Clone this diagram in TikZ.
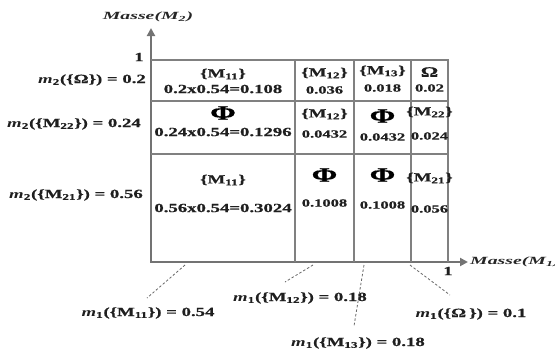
\documentclass[tikz,border=0pt]{standalone}
\usepackage{fontspec}
\setmainfont{Liberation Serif}[BoldFeatures={FakeBold=0.6}]
\usepackage{graphicx}
\usetikzlibrary{arrows.meta}
\newcommand{\sx}[1]{\scalebox{1.5}[1]{#1}}
\newcommand{\sxa}[1]{\scalebox{1.8}[1]{#1}}
\newcommand{\mmlab}[2]{\textit{m}\textsubscript{#1}(\{#2\})}
\newcommand{\Msub}[1]{M\textsubscript{#1}}
\begin{document}
\begin{tikzpicture}[x=1pt,y=-1pt,
  lab/.style={inner sep=0pt, text=black!88, font=\bfseries\fontsize{12.5}{13}\selectfont},
  axlab/.style={inner sep=0pt, text=black!85, font=\bfseries\itshape\fontsize{11}{12}\selectfont},
  cellA/.style={inner sep=0pt, text=black!88, font=\bfseries\fontsize{12.5}{13}\selectfont},
  cellW/.style={inner sep=0pt, text=black!88, font=\bfseries\fontsize{12.5}{13}\selectfont},
  cellB/.style={inner sep=0pt, text=black!88, font=\bfseries\fontsize{11}{12}\selectfont},
  phi/.style={inner sep=0pt, text=black, font=\bfseries\fontsize{20.5}{21}\selectfont},
  gridline/.style={draw=black!50, line width=1.3pt},
  axis/.style={draw=black!55, line width=2.8pt, line join=miter, {Triangle[length=8pt,width=8pt]}-{Triangle[length=8pt,width=8pt]}},
  lead/.style={draw=black!60, dashed, dash pattern=on 2.5pt off 2pt, line width=0.8pt}
]
\useasboundingbox (0,0) rectangle (555,354);

% axes
\coordinate (O) at (151,262);
\coordinate (ytop) at (151,28);
\coordinate (xend) at (468,262);
\draw[axis] (ytop) -- (O) -- (xend);

\node[axlab] (ylab) at (148,17) {\sxa{Masse(\Msub{2})}};
\node[axlab, anchor=west] (xlab) at (470,262) {\sxa{Masse(\Msub{1})}};
\node[lab] (y1) at (139,57) {\sx{1}};
\node[lab] (x1) at (448,271) {\sx{1}};

% grid
\draw[gridline] (151,60) -- (448,60) -- (448,262);
\draw[gridline] (151,101) -- (448,101);
\draw[gridline] (151,154) -- (448,154);
\draw[gridline] (295,60) -- (295,262);
\draw[gridline] (354,60) -- (354,262);
\draw[gridline] (411,60) -- (411,262);

% left labels
\node[lab, anchor=east] (l1) at (146,80) {\sx{\mmlab{2}{Ω} = 0.2}};
\node[lab, anchor=east] (l2) at (141,124) {\sx{\mmlab{2}{\Msub{22}} = 0.24}};
\node[lab, anchor=east] (l3) at (143,195) {\sx{\mmlab{2}{\Msub{21}} = 0.56}};

% bottom labels
\node[lab] (b1) at (148,313) {\sx{\mmlab{1}{\Msub{11}} = 0.54}};
\node[lab] (b2) at (300,298) {\sx{\mmlab{1}{\Msub{12}} = 0.18}};
\node[lab] (b3) at (358,343) {\sx{\mmlab{1}{\Msub{13}} = 0.18}};
\node[lab] (b4) at (471,314) {\sx{\mmlab{1}{Ω\,} = 0.1}};

% leaders
\coordinate (a1) at (185,265); \coordinate (e1) at (147,298);
\coordinate (a2) at (313,265); \coordinate (e2) at (285,282);
\coordinate (a3) at (364,265); \coordinate (e3) at (354,326);
\coordinate (a4) at (410,265); \coordinate (e4) at (450,295);
\draw[lead] (a1) -- (e1);
\draw[lead] (a2) -- (e2);
\draw[lead] (a3) -- (e3);
\draw[lead] (a4) -- (e4);

% row 1
\node[cellA] (r1c1a) at (223,74) {\sx{\{\Msub{11}\}}};
\node[cellW] (r1c1b) at (223,89) {\sx{0.2x0.54=0.108}};
\node[cellA] (r1c2a) at (324.5,73) {\sx{\{\Msub{12}\}}};
\node[cellB] (r1c2b) at (324.5,90) {\sx{0.036}};
\node[cellA] (r1c3a) at (382.5,71) {\sx{\{\Msub{13}\}}};
\node[cellB] (r1c3b) at (382.5,88) {\sx{0.018}};
\node[cellA, font=\bfseries\fontsize{14.5}{15}\selectfont] (r1c4a) at (429.5,72) {\sx{Ω}};
\node[cellB] (r1c4b) at (429.5,88) {\sx{0.02}};

% row 2
\node[phi] (r2c1a) at (223,113) {\sx{Φ}};
\node[cellW] (r2c1b) at (223,132) {\sx{0.24x0.54=0.1296}};
\node[cellA] (r2c2a) at (324.5,114) {\sx{\{\Msub{12}\}}};
\node[cellB] (r2c2b) at (324.5,134) {\sx{0.0432}};
\node[phi] (r2c3a) at (382.5,116) {\sx{Φ}};
\node[cellB] (r2c3b) at (382.5,137) {\sx{0.0432}};
\node[cellA] (r2c4a) at (429.5,112) {\sx{\{\Msub{22}\}}};
\node[cellB] (r2c4b) at (429.5,136) {\sx{0.024}};

% row 3
\node[cellA] (r3c1a) at (223,180) {\sx{\{\Msub{11}\}}};
\node[cellW] (r3c1b) at (223,208) {\sx{0.56x0.54=0.3024}};
\node[phi] (r3c2a) at (324.5,175) {\sx{Φ}};
\node[cellB] (r3c2b) at (324.5,203) {\sx{0.1008}};
\node[phi] (r3c3a) at (382.5,175) {\sx{Φ}};
\node[cellB] (r3c3b) at (382.5,205) {\sx{0.1008}};
\node[cellA] (r3c4a) at (429.5,178) {\sx{\{\Msub{21}\}}};
\node[cellB] (r3c4b) at (429.5,209) {\sx{0.056}};
\end{tikzpicture}
\end{document}
